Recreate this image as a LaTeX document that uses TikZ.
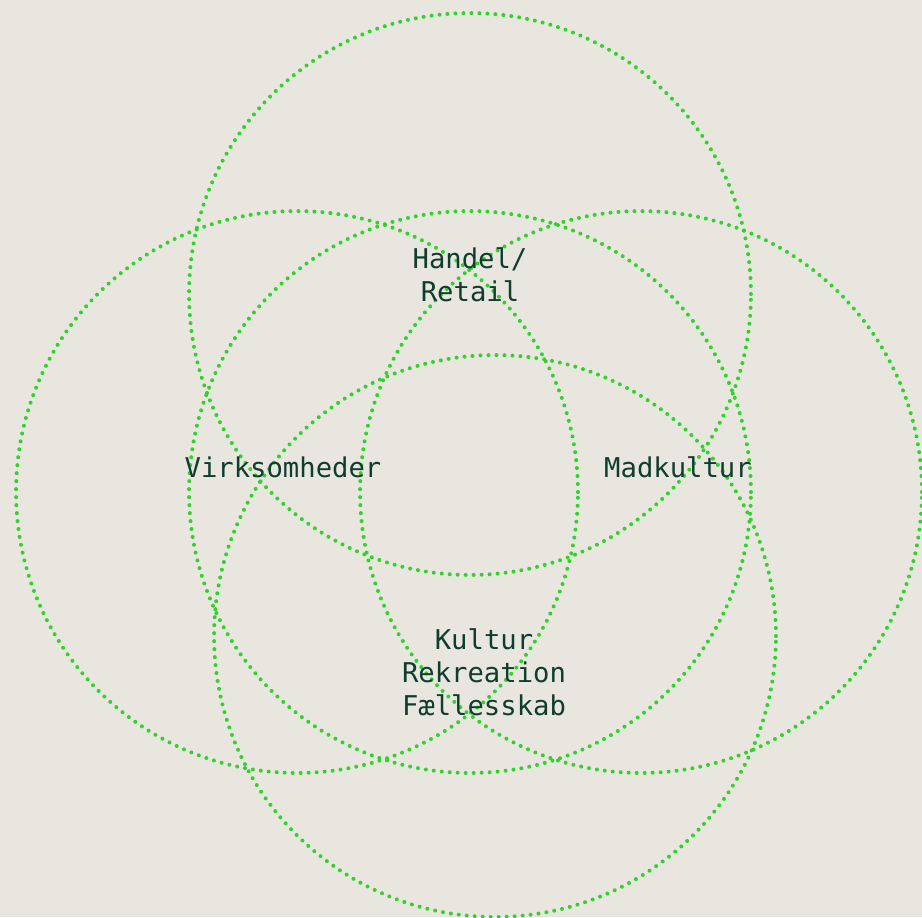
\documentclass[tikz,border=0pt]{standalone}
\usepackage{fontspec}
\setmonofont{DejaVu Sans Mono}
\usepackage{xcolor}
\definecolor{paper}{HTML}{E9E6E0}
\definecolor{ringgreen}{HTML}{2FD42B}
\definecolor{ink}{HTML}{0F3D2E}

\begin{document}
\begin{tikzpicture}[
        x=0.02cm, y=-0.02cm,
        ring/.style={circle, draw=ringgreen, minimum size=11.24cm, inner sep=0pt,
            line width=0.08cm, line cap=round, dash pattern=on 0pt off 0.16cm},
        label/.style={font=\ttfamily\fontsize{15.5}{18.8}\selectfont, text=ink, align=center}
    ]
        % Background
        \fill[paper] (0,0) rectangle (922,917);
        \useasboundingbox (0,0) rectangle (922,917);

        % Circles
        \node[ring] (C-top) at (470, 294) {};
        \node[ring] (C-mid) at (470, 492) {};
        \node[ring] (C-left) at (297, 492) {};
        \node[ring] (C-right) at (641, 492) {};
        \node[ring] (C-bottom) at (495, 636) {};

        % Labels
        \node[label] (handel) at (470, 275) {Handel/\\Retail};
        \node[label] (virk) at (283, 467) {Virksomheder};
        \node[label] (mad) at (678, 467) {Madkultur};
        \node[label] (kultur) at (484, 672) {Kultur\\Rekreation\\Fællesskab};
    \end{tikzpicture}
\end{document}
